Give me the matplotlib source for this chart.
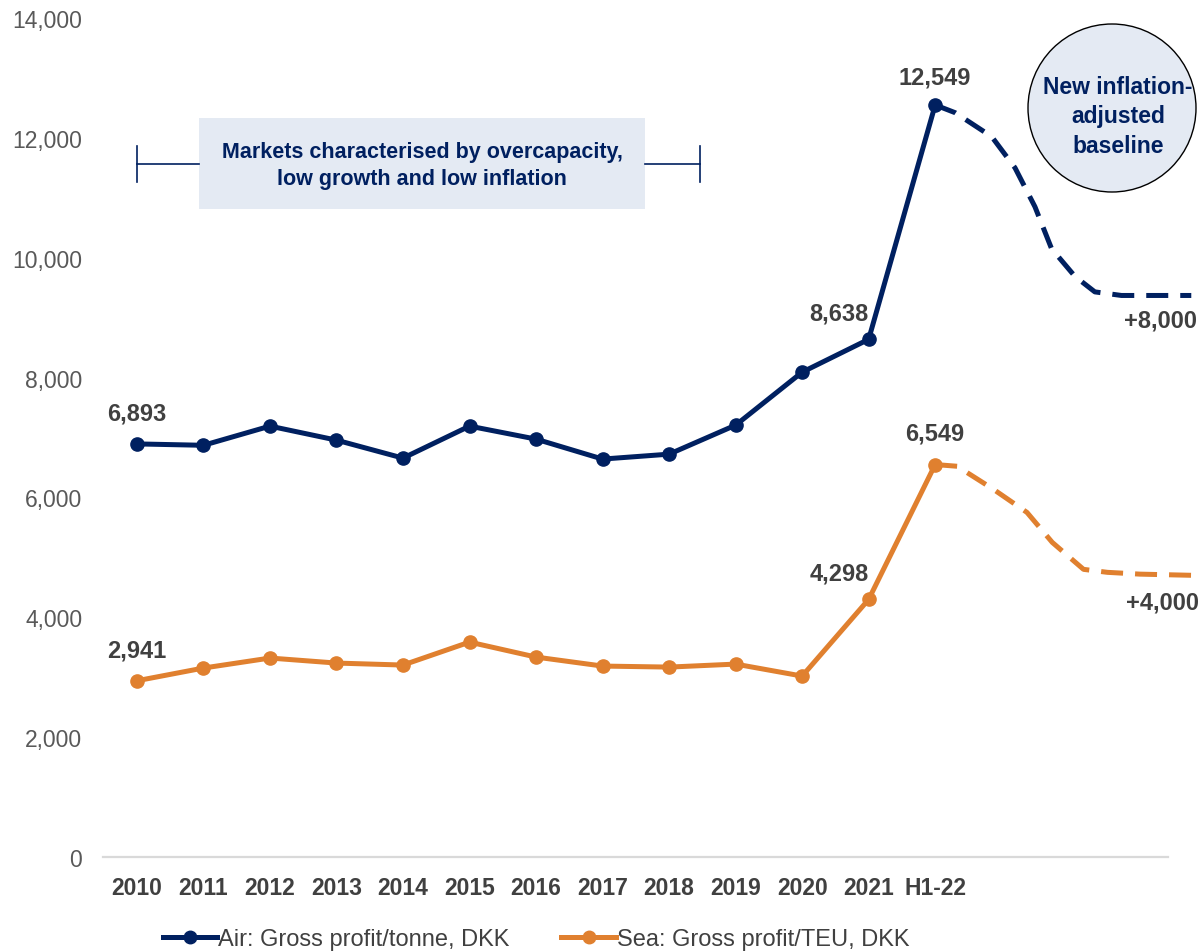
import matplotlib
matplotlib.use("Agg")
import matplotlib.pyplot as plt
from matplotlib.lines import Line2D
from matplotlib.patches import Rectangle, Ellipse

plt.rcParams["font.family"] = ["Liberation Sans", "DejaVu Sans"]

# data
years = ["2010", "2011", "2012", "2013", "2014", "2015", "2016",
         "2017", "2018", "2019", "2020", "2021", "H1-22"]
air = [6893, 6870, 7190, 6956, 6656, 7190, 6973, 6640, 6722, 7206, 8090, 8638, 12549]
sea = [2941, 3153, 3320, 3236, 3203, 3586, 3336, 3186, 3169, 3219, 3019, 4298, 6549]

# dashed baseline projection (x in category units past H1-22)
air_proj_x = [12, 12.3, 12.85, 13.2, 13.5, 13.75, 14.1, 14.4, 14.8, 15.2, 15.85]
air_proj = [12549, 12420, 12020, 11500, 10850, 10150, 9690, 9430, 9370, 9370, 9370]
sea_proj_x = [12, 12.33, 12.87, 13.38, 13.76, 14.23, 14.59, 15.08, 15.88]
sea_proj = [6549, 6520, 6140, 5750, 5250, 4800, 4750, 4720, 4700]

NAVY = "#002060"
ORANGE = "#E0802F"
GREY = "#404040"
BOXFILL = "#E4EAF3"

fig = plt.figure(figsize=(12.02, 9.53), dpi=100)
ax = fig.add_axes([103 / 1202, 1 - 858 / 953, (1168 - 103) / 1202, (858 - 19) / 953])

x = range(len(years))
lw = 3.6
ax.plot(x, air, color=NAVY, lw=lw, marker="o", ms=9.5, zorder=4, clip_on=False)
ax.plot(x, sea, color=ORANGE, lw=lw, marker="o", ms=9.5, zorder=4, clip_on=False)
for px, py, c in [(air_proj_x, air_proj, NAVY), (sea_proj_x, sea_proj, ORANGE)]:
    ln, = ax.plot(px, py, color=c, lw=lw, clip_on=False, zorder=3,
                  dash_capstyle="butt")
    ln.set_dashes([4.4, 2.4])

ax.set_xlim(-0.51, 15.5)
ax.set_ylim(0, 14000)
ax.set_yticks(range(0, 14001, 2000))
ax.set_yticklabels([f"{v:,}" for v in range(0, 14001, 2000)])
ax.set_xticks(list(x))
ax.set_xticklabels(years, fontweight="bold")
ax.tick_params(axis="y", length=0, pad=15, labelsize=16.5, labelcolor="#595959")
ax.tick_params(axis="x", length=0, pad=14, labelsize=16.5, labelcolor=GREY)
for s in ["top", "right", "left"]:
    ax.spines[s].set_visible(False)
ax.spines["bottom"].set_color("#D9D9D9")
ax.spines["bottom"].set_linewidth(1.6)

# value labels
lab = dict(fontsize=17, fontweight="bold", color=GREY, textcoords="offset points")
ax.annotate(f"{air[0]:,}", (0, air[0]), xytext=(0, 22), ha="center", va="center", **lab)
ax.annotate(f"{sea[0]:,}", (0, sea[0]), xytext=(0, 22), ha="center", va="center", **lab)
ax.annotate(f"{air[11]:,}", (11, air[11]), xytext=(0, 19), ha="right", va="center", **lab)
ax.annotate(f"{sea[11]:,}", (11, sea[11]), xytext=(0, 19), ha="right", va="center", **lab)
ax.annotate(f"{air[12]:,}", (12, air[12]), xytext=(0, 20), ha="center", va="center", **lab)
ax.annotate(f"{sea[12]:,}", (12, sea[12]), xytext=(0, 23), ha="center", va="center", **lab)
ax.annotate("+8,000", (air_proj_x[-1], air_proj[-1]), xytext=(4, -18),
            ha="right", va="center", annotation_clip=False, **lab)
ax.annotate("+4,000", (sea_proj_x[-1], sea_proj[-1]), xytext=(4, -19),
            ha="right", va="center", annotation_clip=False, **lab)

# bracket + shaded box
def fy(p):
    return 1 - p / 953

def fx(p):
    return p / 1202

kw = dict(color=NAVY, lw=1.2, transform=fig.transFigure)
fig.add_artist(Line2D([fx(137), fx(137)], [fy(147), fy(183)], **kw))
fig.add_artist(Line2D([fx(137), fx(199)], [fy(165), fy(165)], **kw))
fig.add_artist(Line2D([fx(645), fx(700)], [fy(165), fy(165)], **kw))
fig.add_artist(Line2D([fx(700), fx(700)], [fy(147), fy(183)], **kw))
fig.add_artist(Rectangle((fx(199), fy(210)), fx(645) - fx(199), fy(119) - fy(210),
                         transform=fig.transFigure, facecolor=BOXFILL, edgecolor="none"))
fig.text(fx(422), fy(166), "Markets characterised by overcapacity,\nlow growth and low inflation",
         ha="center", va="center", fontsize=15.5, fontweight="bold", color=NAVY,
         linespacing=1.4)

# circle callout
fig.add_artist(Ellipse((fx(1112), fy(109)), 168 / 1202, 168 / 953,
                       transform=fig.transFigure, facecolor=BOXFILL,
                       edgecolor="black", lw=1.0))
fig.text(fx(1118), fy(117), "New inflation-\nadjusted\nbaseline", ha="center", va="center",
         fontsize=16.5, fontweight="bold", color=NAVY, linespacing=1.35)

# legend
handles = [Line2D([], [], color=NAVY, lw=lw, marker="o", ms=9),
           Line2D([], [], color=ORANGE, lw=lw, marker="o", ms=9)]
fig.legend(handles, ["Air: Gross profit/tonne, DKK", "Sea: Gross profit/TEU, DKK"],
           loc="center", bbox_to_anchor=(fx(536), fy(940)), ncol=2, frameon=False,
           fontsize=17, handlelength=2.3, handletextpad=0.05, columnspacing=2.2,
           labelcolor=GREY)

fig.savefig("out.png", dpi=100)
